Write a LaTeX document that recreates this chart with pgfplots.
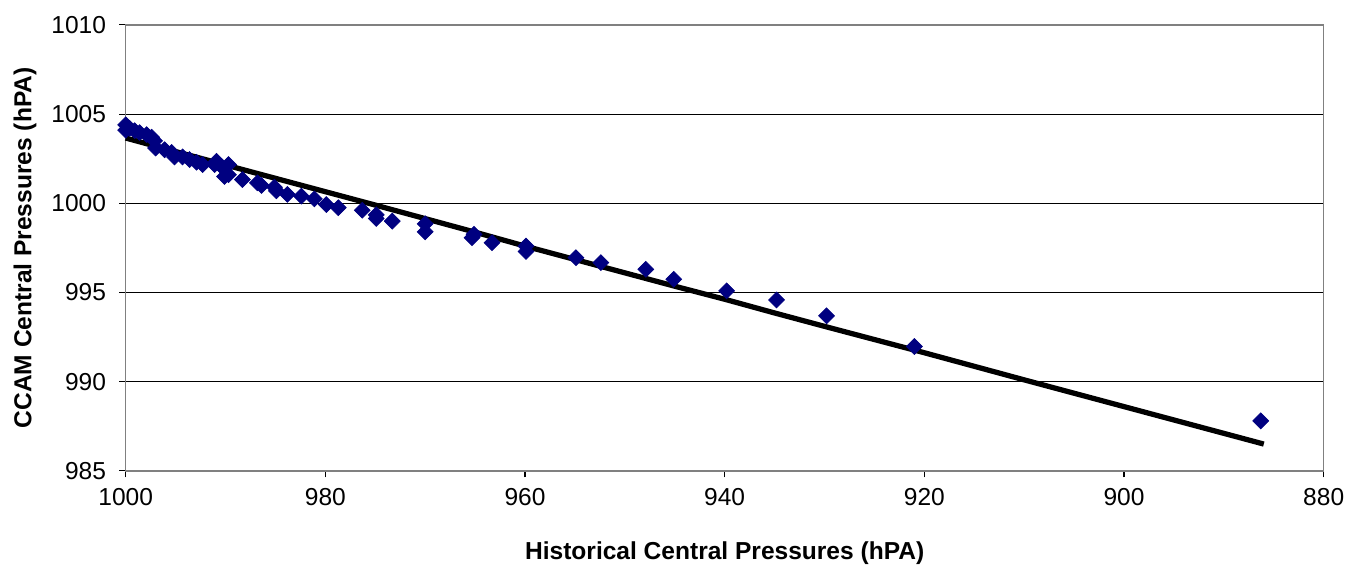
\documentclass[border=0pt]{standalone}
\usepackage{fontspec}
\setmainfont{Liberation Sans}
\usepackage{pgfplots}
\pgfplotsset{compat=1.18}
\definecolor{ptBlue}{HTML}{000080}
\definecolor{frameGray}{HTML}{808080}

\begin{document}
\begin{tikzpicture}
\begin{axis}[
  scale only axis,
  width=24.02cm,height=8.94cm,
  x dir=reverse,
  xmin=880,xmax=1000,ymin=985,ymax=1010,
  xtick={880,900,...,1000},
  ytick={985,990,...,1010},
  /pgf/number format/1000 sep={},
  /pgf/number format/assume math mode=true,
  tick label style={font=\fontsize{14}{16}\selectfont,color=black},
  xticklabel style={yshift=-0.9mm},
  yticklabel style={xshift=-1.4mm},
  tick pos=left,tick align=outside,
  major tick length=1.3mm,
  tick style={black,line width=0.6pt},
  axis line style={draw=frameGray,line width=0.9pt},
  ymajorgrids,
  major grid style={black,line width=0.5pt},
  xlabel={Historical Central Pressures (hPA)},
  ylabel={CCAM Central Pressures (hPA)},
  every axis x label/.style={at={(axis description cs:0.5,0)},yshift=-16.5mm,anchor=center,
    font=\fontsize{14}{16}\selectfont\bfseries},
  every axis y label/.style={at={(axis description cs:0,0.5)},xshift=-20.2mm,rotate=90,anchor=center,
    font=\fontsize{14}{16}\selectfont\bfseries},
  clip=false,
]
% fitted line
\addplot[black,line width=3pt,line join=round] coordinates {
  (1000,1003.66) (995,1002.9) (990,1002.15) (985,1001.4) (980,1000.65)
  (975,999.9) (970,999.14) (965,998.38) (960,997.6) (955,996.85)
  (950,996.1) (945,995.35) (940,994.62) (935,993.85) (930,993.1)
  (925,992.36) (920,991.62) (915,990.86) (910,990.1) (905,989.35)
  (900,988.6) (895,987.85) (890,987.1) (886,986.5)
};
% model vs historical pairs
\addplot[only marks,mark=square*,mark size=3.2pt,mark options={rotate=45},color=ptBlue,fill=ptBlue] coordinates {
  (1000,1004.4) (1000,1004.1) (999.6,1004.2) (999.1,1004.07) (998.6,1003.96)
  (997.9,1003.85) (997.4,1003.7) (997.1,1003.5) (997,1003.1) (996.1,1003.0)
  (995.4,1002.85) (995.1,1002.6) (994.3,1002.6) (993.6,1002.45) (992.9,1002.3)
  (992.3,1002.17) (991.1,1002.17) (990.9,1002.35) (990.4,1002.06) (990.1,1001.5)
  (989.7,1002.17) (989.7,1001.6) (988.3,1001.33) (986.8,1001.15) (986.4,1001.0)
  (985.1,1000.9) (984.9,1000.7) (983.8,1000.5) (982.4,1000.4) (981.1,1000.25)
  (979.9,999.93) (978.7,999.75) (976.3,999.61) (974.9,999.35) (974.9,999.15)
  (973.3,999.0) (970,998.85) (970,998.4) (965.3,998.07) (965.1,998.26)
  (963.3,997.79) (959.9,997.6) (959.9,997.3) (954.9,996.95) (952.4,996.67)
  (947.9,996.3) (945.1,995.74) (939.8,995.09) (934.8,994.58) (929.8,993.69)
  (921,991.97) (886.3,987.8)
};
% page margins as in the reference
\path (rel axis cs:1,0) ++(-265.4mm,-19.6mm);
\path (rel axis cs:1,1) ++(4.6mm,5mm);
\end{axis}
\end{tikzpicture}
\end{document}
